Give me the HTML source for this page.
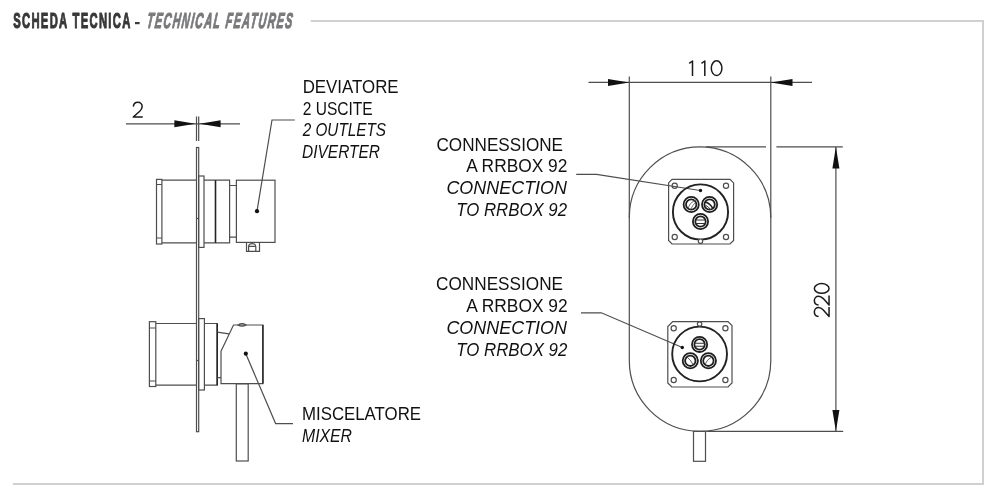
<!DOCTYPE html>
<html><head><meta charset="utf-8">
<style>
.g{fill:none;stroke:#1a1a1a;stroke-width:1.5;stroke-linejoin:round}
html,body{margin:0;padding:0;background:#fff;width:1000px;height:500px;overflow:hidden}
svg{display:block;will-change:transform}
text{font-family:"Liberation Sans",sans-serif}
.l{fill:none;stroke:#4e4e4e;stroke-width:1.2}
.t{fill:#111;font-size:18.7px}
.ti{fill:#111;font-size:18.7px;font-style:italic}
.d{fill:#1e1e1e;font-size:22.5px}
.ar{fill:#111;stroke:none}
</style></head>
<body>
<svg width="1000" height="500" viewBox="0 0 1000 500">
<!-- title -->
<text transform="translate(13.2,28.3) scale(0.502,1)" font-size="22.4" font-weight="bold" fill="#383838" stroke="#383838" stroke-width="1.1" stroke-linejoin="round" letter-spacing="2.6">SCHEDA TECNICA</text>
<rect x="135" y="22" width="4.6" height="2.2" fill="#3b3b3b"/>
<text transform="translate(146.3,28.1) scale(0.5,1) skewX(-14)" font-size="21.6" font-weight="bold" font-style="italic" fill="#78797b" stroke="#78797b" stroke-width="1.1" stroke-linejoin="round" letter-spacing="2.7">TECHNICAL FEATURES</text>
<!-- border -->
<path d="M310.7,21 H983 V484 H12.8" fill="none" stroke="#d0d0d0" stroke-width="2"/>

<!-- ===== LEFT: dimension 2 ===== -->
<path class="g" transform="translate(132.75,117.8)" d="M0.6,-11.2 C0.8,-13.8 2.8,-15.45 5.1,-15.45 C7.6,-15.45 9.4,-13.6 9.4,-11.2 C9.4,-9.3 8.5,-8 7,-6.5 L0.5,-0.75 H10"/>
<path class="l" d="M126,123.8 H240 M196.5,116.6 V141 M198.7,116.6 V141"/>
<polygon class="ar" points="174.4,120.3 195.4,123.8 174.4,127.3"/>
<polygon class="ar" points="220.6,120.3 199.6,123.8 220.6,127.3"/>

<!-- plate -->
<rect class="l" x="196.5" y="147.5" width="2.2" height="284.2"/>

<!-- deviatore -->
<g class="l">
<rect x="156.5" y="179.4" width="5.4" height="64.6"/>
<path d="M156.5,184.5 H161.9 M156.5,238 H161.9"/>
<path d="M161.9,180.2 H196.4 M161.9,242.8 H196.4"/>
<path d="M196.5,218.5 H198.7"/>
<rect x="198.6" y="176" width="5.4" height="71.4"/>
<path d="M204,180.2 H229.6 V242.8 H204"/>
<path d="M215.5,180.2 V242.8" stroke="#222" stroke-width="1.6"/>
<path d="M229.6,185.5 H236.4 M229.6,237.2 H236.4"/>
<rect x="236.4" y="180.2" width="38.6" height="62.2"/>
<path d="M246.5,242.4 V251.3 H259.5 V242.4"/>
<path d="M248.6,251.3 V246.5 Q248.6,243.6 252.2,243.6 Q255.8,243.6 255.8,246.5 V251.3 M248.6,246.3 H255.8"/>
<path d="M257,211.2 L272,120 H294.8"/>
</g>
<circle class="ar" cx="257" cy="211.2" r="2.1"/>

<!-- miscelatore -->
<g class="l">
<rect x="149.4" y="321.7" width="6.4" height="64.8"/>
<path d="M149.4,328 H155.8 M149.4,381 H155.8"/>
<path d="M155.8,323.5 H196.4 M155.8,385.2 H196.4"/>
<path d="M196.5,360.5 H198.7"/>
<rect x="198.6" y="318.6" width="5.8" height="71.4"/>
<path d="M204.4,323.5 H217.2 V385.2 H204.4"/>
<path d="M217.2,323.5 V385.2" stroke="#222" stroke-width="1.5"/>
<path d="M217.2,332.1 L229,333.9 M217.2,377.6 H221"/>
<path d="M221,351.2 L233.5,325 H262.9 V383.6 H221 Z"/>
<path d="M262.9,325 V383.6" stroke="#222" stroke-width="1.4"/>
<path d="M238,325 Q242,322.4 246,325 Q242,327.3 238,325 Z" stroke-width="1.2"/>
<rect x="236.3" y="383.8" width="11.9" height="77.2"/>
<path d="M245.8,353.7 L275.6,423.6 H293"/>
</g>
<circle class="ar" cx="245.8" cy="353.7" r="2.1"/>

<!-- left labels -->
<text class="t" x="302.7" y="92.6" textLength="95.9" lengthAdjust="spacingAndGlyphs">DEVIATORE</text>
<text class="t" x="302.7" y="114.5" textLength="70" lengthAdjust="spacingAndGlyphs">2 USCITE</text>
<text class="ti" x="302.7" y="136.1" textLength="83.3" lengthAdjust="spacingAndGlyphs">2 OUTLETS</text>
<text class="ti" x="302" y="157.5" textLength="78" lengthAdjust="spacingAndGlyphs">DIVERTER</text>
<text class="t" x="302" y="420.4" textLength="119" lengthAdjust="spacingAndGlyphs">MISCELATORE</text>
<text class="ti" x="302" y="442.4" textLength="50" lengthAdjust="spacingAndGlyphs">MIXER</text>

<!-- ===== RIGHT ===== -->
<g fill="none" stroke="#1a1a1a" stroke-width="1.5" stroke-linejoin="round">
<path d="M689.2,63.3 L692.5,61 V76"/>
<path d="M701.5,63.3 L704.8,61 V76"/>
<ellipse cx="716.6" cy="68.2" rx="5.3" ry="7.4"/>
</g>
<path class="l" d="M588.5,82.4 H812 M629.3,76.4 V217.7 M770.8,76.4 V217.7"/>
<polygon class="ar" points="608,78.9 629.3,82.4 608,85.9"/>
<polygon class="ar" points="792.5,78.9 770.8,82.4 792.5,85.9"/>

<path class="l" d="M629.3,217.7 A70.75,70.75 0 0 1 770.8,217.7 V360.6 A70.75,70.75 0 0 1 629.3,360.6 Z"/>
<path class="l" d="M706,146.8 H766 M776.4,146.8 H842.8 M706.4,431.3 H843.2 M835.9,146.8 V431.3"/>
<polygon class="ar" points="835.9,146.8 832.4,168.4 839.4,168.4"/>
<polygon class="ar" points="835.9,431.3 832.4,410 839.4,410"/>
<g class="g" transform="translate(829.8,317) rotate(-90)"><path d="M0.6,-11.2 C0.8,-13.8 2.8,-15.45 5.1,-15.45 C7.6,-15.45 9.4,-13.6 9.4,-11.2 C9.4,-9.3 8.5,-8 7,-6.5 L0.5,-0.75 H10"/><path transform="translate(11.4,0)" d="M0.6,-11.2 C0.8,-13.8 2.8,-15.45 5.1,-15.45 C7.6,-15.45 9.4,-13.6 9.4,-11.2 C9.4,-9.3 8.5,-8 7,-6.5 L0.5,-0.75 H10"/><ellipse cx="28.6" cy="-8.1" rx="4.8" ry="7.35"/></g>
<rect class="l" x="693.5" y="431.3" width="12" height="30"/>

<!-- right labels -->
<text class="t" x="436.5" y="150.8" textLength="126.5" lengthAdjust="spacingAndGlyphs">CONNESSIONE</text>
<text class="t" x="466.2" y="172.4" textLength="101.2" lengthAdjust="spacingAndGlyphs">A RRBOX 92</text>
<text class="ti" x="446.4" y="194.4" textLength="120.6" lengthAdjust="spacingAndGlyphs">CONNECTION</text>
<text class="ti" x="456.3" y="215.7" textLength="110.7" lengthAdjust="spacingAndGlyphs">TO RRBOX 92</text>

<text class="t" x="436.1" y="289.9" textLength="126.9" lengthAdjust="spacingAndGlyphs">CONNESSIONE</text>
<text class="t" x="466.2" y="312" textLength="101.5" lengthAdjust="spacingAndGlyphs">A RRBOX 92</text>
<text class="ti" x="446.4" y="334" textLength="120.6" lengthAdjust="spacingAndGlyphs">CONNECTION</text>
<text class="ti" x="456.3" y="355.7" textLength="111" lengthAdjust="spacingAndGlyphs">TO RRBOX 92</text>

<!-- RRBOX top -->
<g class="l">
<path d="M576.2,174.4 H596.5 L700.2,190.5"/>
<path d="M672,179.3 H730 L733.6,182.9 V240.4 L730,244 H672 L668.6,240.4 V182.9 Z"/>
<circle cx="674.7" cy="185.7" r="2.6"/>
<circle cx="726" cy="185.7" r="2.6"/>
<circle cx="674.7" cy="237" r="2.6"/>
<circle cx="726" cy="237" r="2.6"/>
<circle cx="700.5" cy="212" r="27.6" stroke="#222" stroke-width="1.9"/>
<circle cx="700.5" cy="241.2" r="2.2" fill="#fff"/>
<g stroke="#1e1e1e" stroke-width="1.8">
<circle cx="691.2" cy="204.5" r="7.6"/>
<circle cx="691.2" cy="204.5" r="5.2"/>
<circle cx="709.6" cy="204.5" r="7.6"/>
<circle cx="709.6" cy="204.5" r="5.2"/>
<circle cx="700.5" cy="221.5" r="7.6"/>
<circle cx="700.5" cy="221.5" r="5.2"/>
</g>
<path d="M687.8,208.5 Q689.5,203 694.5,200.5 M690.5,209.6 Q693,204.5 695.5,202.5" stroke-width="0.8"/>
<path d="M705,202 Q710,203 712.6,208.2" stroke="#222" stroke-width="1.7"/><path d="M705.5,205.3 Q708.5,206.3 710.5,209.8" stroke="#444" stroke-width="1"/>
<path d="M695.5,220 H705.5 M695.5,223.5 H705.5" stroke="#333" stroke-width="1"/>
</g>
<circle class="ar" cx="700.5" cy="190.5" r="1.7"/>

<!-- RRBOX bottom -->
<g class="l">
<path d="M581,312.8 H601.3 L682.3,347.5"/>
<path d="M672.7,321.6 H728 L732,325.6 V383 L728,387 H671.8 L667.8,383 V326.6 Z"/>
<circle cx="673.7" cy="328.3" r="2.6"/>
<circle cx="725.4" cy="328.3" r="2.6"/>
<circle cx="673.7" cy="380" r="2.6"/>
<circle cx="725.4" cy="380" r="2.6"/>
<circle cx="699.6" cy="354" r="27.4" stroke="#222" stroke-width="1.9"/>
<circle cx="699.6" cy="324" r="2.2" fill="#fff"/>
<g stroke="#1e1e1e" stroke-width="1.8">
<circle cx="699.6" cy="344.4" r="7.6"/>
<circle cx="699.6" cy="344.4" r="5.2"/>
<circle cx="690.3" cy="360.8" r="7.6"/>
<circle cx="690.3" cy="360.8" r="5.2"/>
<circle cx="708.4" cy="360.8" r="7.6"/>
<circle cx="708.4" cy="360.8" r="5.2"/>
</g>
<path d="M694.5,343.2 H704.7 M694.8,346.2 H704.4" stroke="#333" stroke-width="1.1"/>
<path d="M687,357 Q690.5,359.5 693,364.5" stroke-width="0.9"/>
<path d="M705,364.5 Q707,359.5 711.5,357" stroke-width="0.9"/>
</g>
<circle class="ar" cx="682.3" cy="347.5" r="1.7"/>
</svg>
</body></html>
